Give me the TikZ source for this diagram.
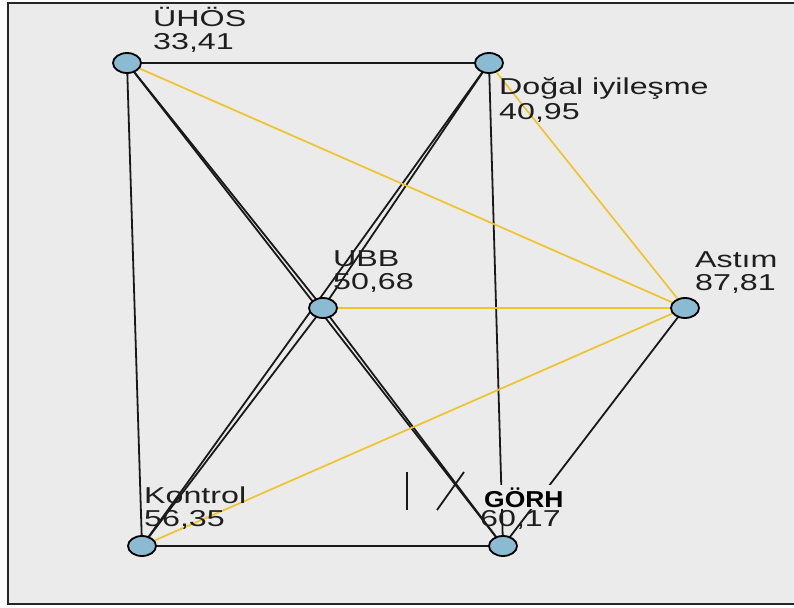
\documentclass[tikz,border=0pt]{standalone}
\usepackage{fontspec}
\setmainfont[FakeStretch=1.4]{Liberation Sans}
\newfontfamily\gorhfont[FakeStretch=1.15]{Liberation Sans}
\usetikzlibrary{shapes.geometric,backgrounds}
\definecolor{bgc}{HTML}{EBEBEB}
\definecolor{nodeblue}{HTML}{8BBAD3}
\definecolor{edgeyellow}{HTML}{EEC42A}
\definecolor{labelc}{HTML}{1E1E1E}
\tikzset{
  vert/.style={ellipse, draw=black, line width=1.8pt, fill=nodeblue,
    minimum width=28pt, minimum height=20pt, inner sep=0pt},
  lbl/.style={anchor=base west, inner sep=0pt, text=labelc,
    font=\fontsize{23}{24}\selectfont},
  blackedge/.style={draw=black!90, line width=1.8pt},
  yellowedge/.style={draw=edgeyellow, line width=1.7pt},
  frameline/.style={draw=black!85, line width=2.5pt}
}
\begin{document}
\begin{tikzpicture}[x=1pt,y=-1pt]
\useasboundingbox (0,0) rectangle (794,607);
% vertices
\node[vert] (uhos) at (127,63) {};
\node[vert] (dogal) at (489,63) {};
\node[vert] (ubb) at (323,308) {};
\node[vert] (astim) at (685,308) {};
\node[vert] (kontrol) at (142,546) {};
\node[vert] (gorh) at (503,546) {};
% labels
\node[lbl] (l1a) at (153,27) {ÜHÖS};
\node[lbl] (l1b) at (153,50) {33,41};
\node[lbl] (l2a) at (499,95) {Doğal iyileşme};
\node[lbl] (l2b) at (499,119) {40,95};
\node[lbl] (l3a) at (333,266) {UBB};
\node[lbl] (l3b) at (333,289) {50,68};
\node[lbl] (l4a) at (695,267) {Astım};
\node[lbl] (l4b) at (695,290) {87,81};
\node[lbl] (l5a) at (144,503) {Kontrol};
\node[lbl] (l5b) at (144,526) {56,35};
\node[anchor=base west, inner sep=2pt, fill=bgc, text=black,
  font=\gorhfont\bfseries\fontsize{23}{24}\selectfont] (l6a) at (482,507) {GÖRH};
\node[lbl] (l6b) at (480,526) {60,17};
% marks
\coordinate (m1) at (407,472);
\coordinate (m2) at (407,510);
\coordinate (m3) at (437,510);
\coordinate (m4) at (464,472);
\draw[blackedge] (m1) -- (m2);
\draw[blackedge] (m3) -- (m4);
\begin{scope}[on background layer]
  \fill[white] (0,0) rectangle (794,607);
  \fill[bgc] (8,3) rectangle (794,604);
  \draw[frameline] (794,3) -- (8,3) -- (8,604) -- (794,604);
  % black edges
  \draw[blackedge, line width=2.1pt] (uhos.center) -- (dogal.center);
  \draw[blackedge] (uhos.center) -- (kontrol.center);
  \draw[blackedge] (uhos.center) -- (gorh.center);
  \draw[blackedge] (uhos.center) -- (ubb.center);
  \draw[blackedge] (ubb.center) -- (gorh.center);
  \draw[blackedge] (dogal.center) -- (kontrol.center);
  \draw[blackedge] (dogal.center) -- (ubb.center);
  \draw[blackedge] (ubb.center) -- (kontrol.center);
  \draw[blackedge] (dogal.center) -- (gorh.center);
  \draw[blackedge, line width=2.1pt] (kontrol.center) -- (gorh.center);
  \draw[blackedge] (astim.center) -- (gorh.center);
  % yellow edges
  \draw[yellowedge] (uhos.center) -- (astim.center);
  \draw[yellowedge] (dogal.center) -- (astim.center);
  \draw[yellowedge] (ubb.center) -- (astim.center);
  \draw[yellowedge] (kontrol.center) -- (astim.center);
\end{scope}
\end{tikzpicture}
\end{document}
